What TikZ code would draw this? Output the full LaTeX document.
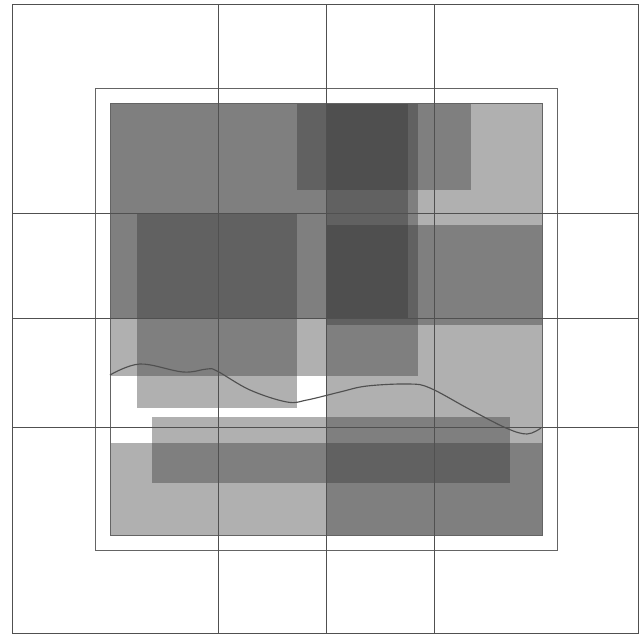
\documentclass[tikz,border=0pt]{standalone}
\usepackage{tikz}
\definecolor{gridline}{RGB}{80,80,80}
\definecolor{frameline}{RGB}{100,100,100}
\definecolor{veil}{RGB}{51,51,51}

\begin{document}
\begin{tikzpicture}[
    x=0.02cm, y=-0.02cm,
    layer/.style = {fill=veil, fill opacity=0.39},
    gridl/.style = {draw=gridline, line width=0.5pt},
    frame/.style = {draw=frameline, line width=0.5pt},
    trace/.style = {draw=gridline, line width=0.65pt}
  ]
    \useasboundingbox (0,0) rectangle (639,636);

    % overlapping translucent layers
    \fill[layer] (110,103) rectangle (326,376);
    \fill[layer] (326,103) rectangle (542,535);
    \fill[layer] (110,103) rectangle (408,318);
    \fill[layer] (326,103) rectangle (418,376);
    \fill[layer] (297,103) rectangle (471,190);
    \fill[layer] (326,225) rectangle (542,325);
    \fill[layer] (137,213) rectangle (297,408);
    \fill[layer] (152,417) rectangle (510,483);
    \fill[layer] (110,443) rectangle (542,535);

    \draw[frame] (110,103) rectangle (542,535);
    \draw[frame] (95,88) rectangle (557,550);

    % grid
    \draw[gridl] (12,4) rectangle (638,633);
    \foreach \gx in {218,326,434}
      \draw[gridl] (\gx,4) -- (\gx,633);
    \foreach \gy in {213,318,427}
      \draw[gridl] (12,\gy) -- (638,\gy);

    % boundary trace
    \draw[trace] plot[smooth, tension=0.6] coordinates {
      (110,375) (140,364) (183,372) (207,369) (217,371) (250,390)
      (287,402) (307,400) (340,392) (367,386) (409,384) (430,388)
      (469,409) (506,428) (527,434) (541,428)};
  \end{tikzpicture}
\end{document}
